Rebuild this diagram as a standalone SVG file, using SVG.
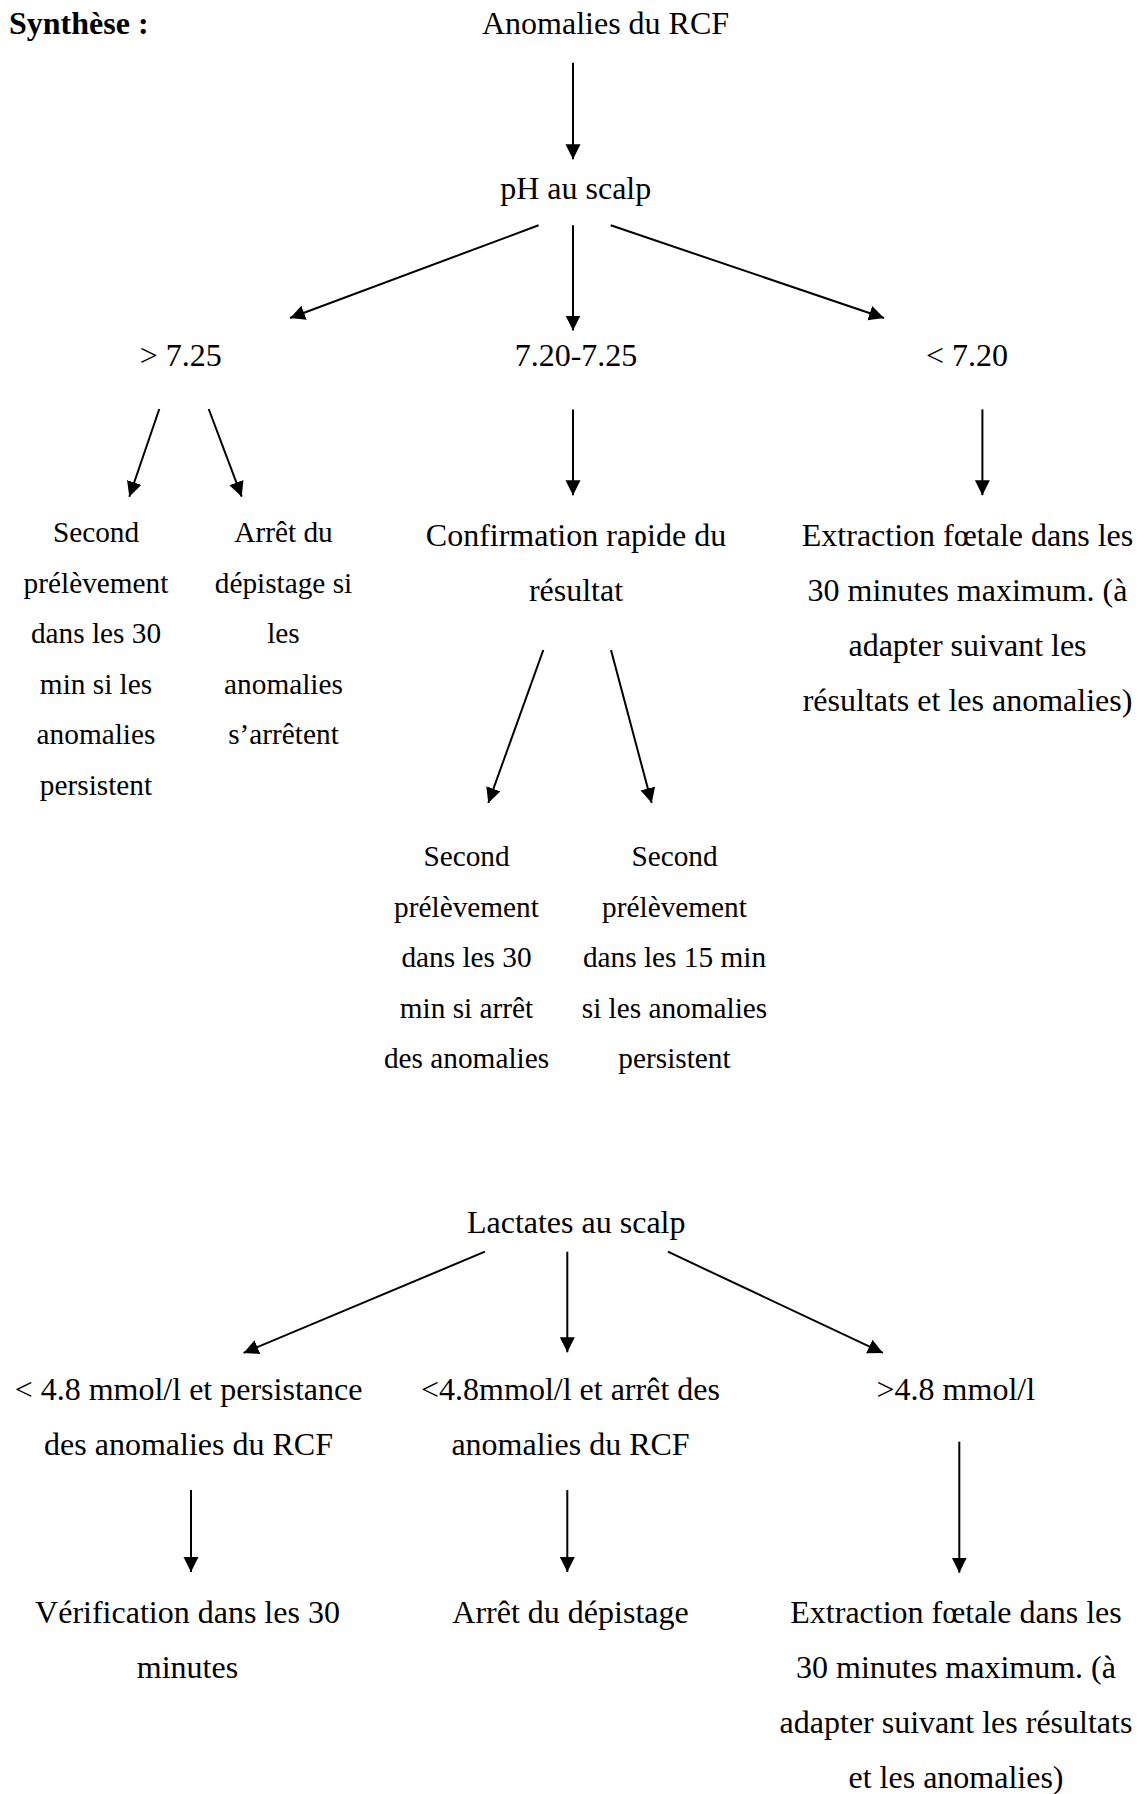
<svg xmlns="http://www.w3.org/2000/svg" width="1147" height="1794" viewBox="0 0 1147 1794">
<style>
text{font-family:"Liberation Serif","Times New Roman",serif;fill:#000;}
.t{font-size:32px;text-anchor:middle;}
.s{font-size:29.3px;text-anchor:middle;}
.b{font-size:32px;font-weight:bold;}
.c line{stroke:#000;stroke-width:2;marker-end:url(#ah);}
</style>
<defs>
<marker id="ah" markerUnits="userSpaceOnUse" markerWidth="16" markerHeight="16" refX="15" refY="7.5" orient="auto">
<path d="M0,0 L15,7.5 L0,15 z" fill="#000"/>
</marker>
</defs>
<rect width="1147" height="1794" fill="#fff"/>
<text class="b" x="9" y="34">Synthèse :</text>
<g id="n-anomalies"><text class="t" x="605.5" y="33.5">Anomalies du RCF</text></g>
<g id="n-ph"><text class="t" x="575.7" y="199.3">pH au scalp</text></g>
<g id="n-gt725"><text class="t" x="180.7" y="366">&gt; 7.25</text></g>
<g id="n-720-725"><text class="t" x="576" y="366">7.20-7.25</text></g>
<g id="n-lt720"><text class="t" x="967" y="366">&lt; 7.20</text></g>
<g id="n-second1"><text class="s" x="96">
<tspan x="96" y="542">Second</tspan><tspan x="96" y="592.5">prélèvement</tspan><tspan x="96" y="643">dans les 30</tspan><tspan x="96" y="693.5">min si les</tspan><tspan x="96" y="744">anomalies</tspan><tspan x="96" y="794.5">persistent</tspan></text></g>
<g id="n-arret1"><text class="s" x="283.5">
<tspan x="283.5" y="542">Arrêt du</tspan><tspan x="283.5" y="592.5">dépistage si</tspan><tspan x="283.5" y="643">les</tspan><tspan x="283.5" y="693.5">anomalies</tspan><tspan x="283.5" y="744">s’arrêtent</tspan></text></g>
<g id="n-confirmation"><text class="t" x="576">
<tspan x="576" y="545.5">Confirmation rapide du</tspan><tspan x="576" y="600.5">résultat</tspan></text></g>
<g id="n-extraction1"><text class="t" x="967.5">
<tspan x="967.5" y="545.5">Extraction fœtale dans les</tspan><tspan x="967.5" y="600.5">30 minutes maximum. (à</tspan><tspan x="967.5" y="655.5">adapter suivant les</tspan><tspan x="967.5" y="710.5">résultats et les anomalies)</tspan></text></g>
<g id="n-second2"><text class="s" x="466.5">
<tspan x="466.5" y="866">Second</tspan><tspan x="466.5" y="916.5">prélèvement</tspan><tspan x="466.5" y="967">dans les 30</tspan><tspan x="466.5" y="1017.5">min si arrêt</tspan><tspan x="466.5" y="1068">des anomalies</tspan></text></g>
<g id="n-second3"><text class="s" x="674.5">
<tspan x="674.5" y="866">Second</tspan><tspan x="674.5" y="916.5">prélèvement</tspan><tspan x="674.5" y="967">dans les 15 min</tspan><tspan x="674.5" y="1017.5">si les anomalies</tspan><tspan x="674.5" y="1068">persistent</tspan></text></g>
<g id="n-lactates"><text class="t" x="576.2" y="1232.7">Lactates au scalp</text></g>
<g id="n-lac-low-persist"><text class="t" x="188.5">
<tspan x="188.5" y="1400">&lt; 4.8 mmol/l et persistance</tspan><tspan x="188.5" y="1455">des anomalies du RCF</tspan></text></g>
<g id="n-lac-low-stop"><text class="t" x="570.5">
<tspan x="570.5" y="1400">&lt;4.8mmol/l et arrêt des</tspan><tspan x="570.5" y="1455">anomalies du RCF</tspan></text></g>
<g id="n-lac-high"><text class="t" x="955.8" y="1400">&gt;4.8 mmol/l</text></g>
<g id="n-verification"><text class="t" x="187.5">
<tspan x="187.5" y="1623">Vérification dans les 30</tspan><tspan x="187.5" y="1678">minutes</tspan></text></g>
<g id="n-arret2"><text class="t" x="570.5" y="1623">Arrêt du dépistage</text></g>
<g id="n-extraction2"><text class="t" x="956">
<tspan x="956" y="1623">Extraction fœtale dans les</tspan><tspan x="956" y="1678">30 minutes maximum. (à</tspan><tspan x="956" y="1733">adapter suivant les résultats</tspan><tspan x="956" y="1788">et les anomalies)</tspan></text></g>
<g id="connectors" class="c">
<line x1="573" y1="62.7" x2="573" y2="159.3"/>
<line x1="538.6" y1="225.3" x2="290" y2="318"/>
<line x1="573" y1="225.3" x2="573" y2="330.5"/>
<line x1="610.7" y1="225.3" x2="884" y2="318"/>
<line x1="159.3" y1="409" x2="129.3" y2="496.7"/>
<line x1="208.7" y1="409" x2="241.7" y2="496.7"/>
<line x1="573" y1="409.4" x2="573" y2="495.2"/>
<line x1="982.4" y1="409.4" x2="982.4" y2="495.2"/>
<line x1="543.3" y1="650" x2="488.3" y2="803"/>
<line x1="611" y1="650" x2="651.7" y2="803"/>
<line x1="484.9" y1="1251.7" x2="243.6" y2="1352.9"/>
<line x1="567.3" y1="1251.7" x2="567.3" y2="1352.3"/>
<line x1="667.9" y1="1251.7" x2="882.9" y2="1352.9"/>
<line x1="191" y1="1490" x2="191" y2="1572"/>
<line x1="567.3" y1="1490" x2="567.3" y2="1572"/>
<line x1="959.3" y1="1441.7" x2="959.3" y2="1572.7"/>
</g>
</svg>
